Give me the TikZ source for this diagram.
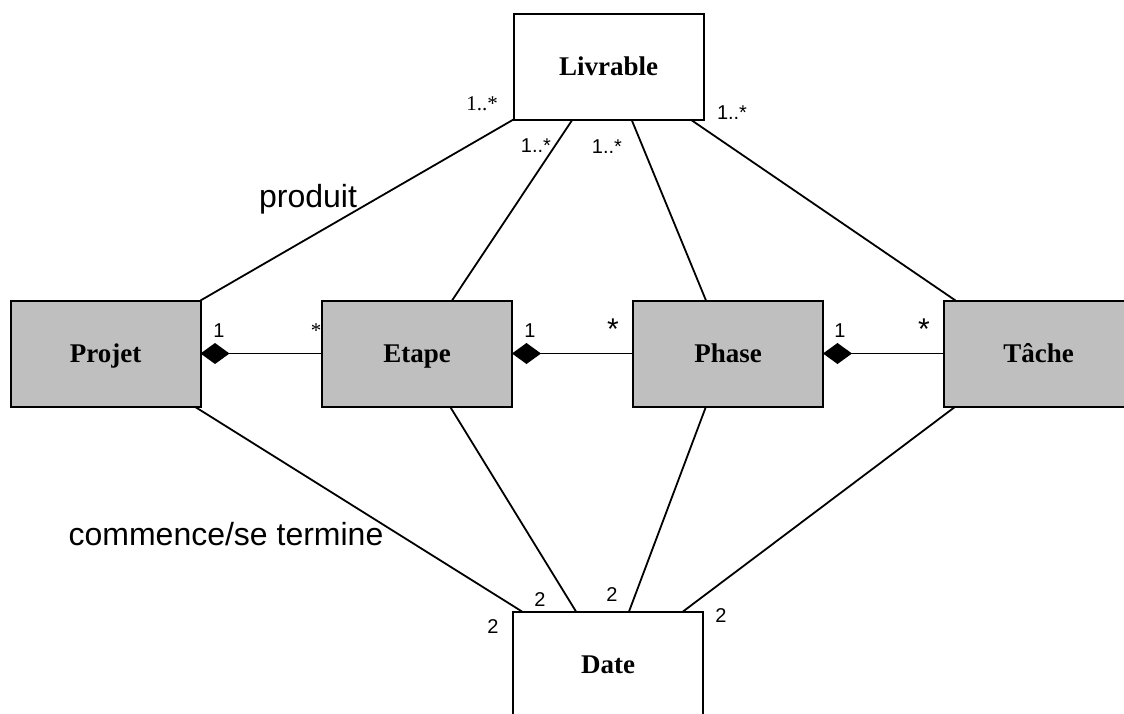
\documentclass[tikz,border=0pt]{standalone}
\usepackage{fontspec}
\setmainfont{Liberation Serif}
\setsansfont{Liberation Sans}
\usetikzlibrary{arrows.meta}
\definecolor{boxgray}{RGB}{191,191,191}
\begin{document}
\begin{tikzpicture}[x=1pt,y=-1pt,
  classbox/.style={draw=black, line width=2pt, minimum width=190pt, minimum height=106pt,
    inner sep=0pt, outer sep=0pt, text height=17.5pt, text depth=0pt,
    font=\fontsize{27}{31}\selectfont\bfseries},
  core/.style={classbox, fill=boxgray},
  assoc/.style={line width=1.8pt},
  compo/.style={assoc, {Diamond[length=29pt,width=21pt]}-},
  mult/.style={anchor=base, inner sep=0pt, font=\sffamily\fontsize{20}{24}\selectfont},
  multstar/.style={anchor=base, inner sep=0pt, font=\sffamily\fontsize{30}{34}\selectfont},
  multserif/.style={anchor=base, inner sep=0pt, font=\fontsize{21}{24}\selectfont},
  rolename/.style={anchor=base, inner sep=0pt, font=\sffamily\fontsize{32}{38}\selectfont}]

\clip (0,0) rectangle (1124,713);
\fill[white] (0,0) rectangle (1124,713);

% classes
\node[classbox] (liv)   at (608.5,66.5)  {Livrable};
\node[core]     (proj)  at (105.5,353.5) {Projet};
\node[core]     (etape) at (417,353.5)   {Etape};
\node[core]     (phase) at (728,353.5)   {Phase};
\node[core]     (tache) at (1038.5,353.5){Tâche};
\node[classbox] (date)  at (608,664.5)   {Date};

% compositions
\draw[compo] (proj.east)  -- (etape.west);
\draw[compo] (etape.east) -- (phase.west);
\draw[compo] (phase.east) -- (tache.west);

% associations with Livrable
\draw[assoc] (liv.south west) -- (proj.north east);
\draw[assoc] ([xshift=59pt]liv.south west)  -- ([xshift=130pt]etape.north west);
\draw[assoc] ([xshift=118pt]liv.south west) -- ([xshift=73pt]phase.north west);
\draw[assoc] ([xshift=177pt]liv.south west) -- ([xshift=12pt]tache.north west);

% associations with Date
\draw[assoc] ([xshift=-6pt]proj.south east)  -- ([xshift=9pt]date.north west);
\draw[assoc] ([xshift=128pt]etape.south west) -- ([xshift=63pt]date.north west);
\draw[assoc] ([xshift=73pt]phase.south west)  -- ([xshift=116pt]date.north west);
\draw[assoc] ([xshift=12pt]tache.south west)  -- ([xshift=170pt]date.north west);

% multiplicities
\node[multserif] (m1) at (482,110) {1..*};
\node[mult] (m2) at (536,152) {1..*};
\node[mult] (m3) at (607,153) {1..*};
\node[mult] (m4) at (732,119) {1..*};

\node[mult] (m5) at (219,337) {1};
\node[multserif] (m6) at (316,337) {*};
\node[mult] (m7) at (530,337) {1};
\node[multstar] (m8) at (613,339) {*};
\node[mult] (m9) at (840,337) {1};
\node[multstar] (m10) at (924,339) {*};

\node[mult] (m11) at (493,633) {2};
\node[mult] (m12) at (540,606) {2};
\node[mult] (m13) at (612,601) {2};
\node[mult] (m14) at (721,622) {2};

% role names
\node[rolename] (r1) at (308,207) {produit};
\node[rolename] (r2) at (226,545) {commence/se termine};
\end{tikzpicture}
\end{document}
